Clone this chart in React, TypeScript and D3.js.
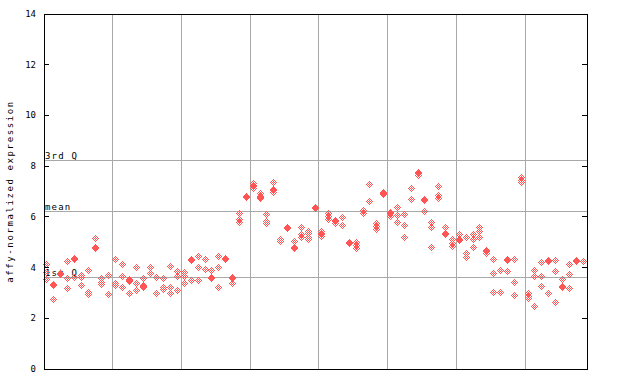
import React from "react";
import * as d3 from "d3";

// expression values per sample column (79 columns, groups of 10)
const columnValues: number[][] = [
  [4.14, 3.82, 3.55],
  [3.35, 3.31, 2.76],
  [3.79, 3.75],
  [4.27, 3.58, 3.2],
  [4.36, 4.32, 3.64],
  [3.71, 3.62, 3.3],
  [3.9, 3.02, 2.94],
  [5.15, 4.8, 4.76],
  [3.58, 3.45, 3.34],
  [3.71, 2.94],
  [4.32, 3.38, 3.3],
  [4.14, 3.67, 3.25],
  [3.56, 3.52, 3.46, 2.99],
  [4.03, 3.38, 3.12],
  [3.58, 3.33, 3.29, 3.22],
  [4.02, 3.77],
  [3.62, 2.98],
  [3.58, 3.22, 3.14],
  [4.06, 3.22, 3.01],
  [3.88, 3.66, 3.12],
  [3.81, 3.66, 3.38],
  [4.34, 4.3, 3.51],
  [4.44, 4.03, 3.51],
  [4.34, 3.94],
  [3.9, 3.64, 3.6],
  [4.46, 4.03, 3.22],
  [4.36, 4.32],
  [3.64, 3.6, 3.4],
  [6.14, 5.9, 5.8],
  [6.82, 6.78],
  [7.33, 7.24, 7.2, 7.14],
  [6.96, 6.84, 6.8, 6.74],
  [6.11, 5.84, 5.77],
  [7.39, 7.09, 7.05, 6.99],
  [5.14, 5.06],
  [5.59, 5.55],
  [5.05, 4.8, 4.76],
  [5.59, 5.32, 5.22],
  [5.44, 5.35, 5.22, 5.11],
  [6.38, 6.34],
  [5.45, 5.37, 5.33, 5.25],
  [6.14, 6.03, 5.9],
  [5.87, 5.83, 5.75],
  [5.98, 5.67],
  [5.0, 4.96],
  [5.01, 4.89, 4.78],
  [6.27, 6.17],
  [7.3, 6.61],
  [5.77, 5.64, 5.51],
  [6.99, 6.95, 6.9],
  [6.2, 6.16, 6.04],
  [6.37, 6.06, 5.78],
  [6.1, 5.67, 5.19],
  [7.12, 6.69],
  [7.76, 7.72, 7.65],
  [6.7, 6.66, 6.23],
  [5.8, 5.59, 4.8],
  [7.2, 6.85, 6.73],
  [5.59, 5.37, 5.33],
  [5.11, 4.96, 4.85],
  [5.31, 5.13, 5.09],
  [5.19, 4.56, 4.43],
  [5.31, 5.11, 4.8],
  [5.59, 5.45, 5.19],
  [4.69, 4.65, 4.56],
  [4.32, 3.77, 3.02],
  [3.89, 3.02],
  [4.34, 4.3, 3.85],
  [4.32, 3.42, 2.91],
  [7.56, 7.45, 7.36],
  [2.98, 2.89, 2.81],
  [3.89, 3.66, 2.47],
  [4.21, 3.66, 3.26],
  [4.29, 4.25, 2.98],
  [4.29, 3.85, 2.63],
  [3.54, 3.27, 3.23],
  [4.13, 3.73, 3.18],
  [4.29, 4.25],
  [4.25],
];

const groupSize = 10;
const yTicks = [0, 2, 4, 6, 8, 10, 12, 14];
const refLabels = ["1st Q", "mean", "3rd Q"];
const refValues = [3.62, 6.2, 8.24];
const yLabel = "affy-normalized expression";

const W = 640;
const H = 384;
const left = 44;
const right = 587;
const top = 14;
const bottom = 369;
const RED = "#ff5555";
const GRID = "#a8a8a8";

function diamondPath(cx: number, cy: number): string {
  let d = "";
  for (let dy = -3; dy <= 3; dy++) {
    for (let dx = -3; dx <= 3; dx++) {
      const dist = Math.abs(dx) + Math.abs(dy);
      if (dist === 1 || dist === 3) {
        d += `M${cx + dx},${cy + dy}h1v1h-1z`;
      }
    }
  }
  return d;
}

export default function App() {
  const x = d3
    .scaleBand<number>()
    .domain(d3.range(columnValues.length))
    .range([left, right]);
  const y = d3.scaleLinear().domain([0, 14]).range([bottom, top]);

  const px = (v: number) => Math.floor(v) + 0.5;

  const boundaries: number[] = [];
  for (let i = groupSize; i < columnValues.length; i += groupSize) {
    boundaries.push(x(i) as number);
  }

  let pointsPath = "";
  columnValues.forEach((vals, i) => {
    const cx = Math.round((x(i) as number) + x.bandwidth() / 2) - 1;
    vals.forEach((v) => {
      const cy = Math.round(y(v));
      pointsPath += diamondPath(cx, cy);
    });
  });

  const font = "'DejaVu Sans Mono', monospace";

  return (
    <svg
      width={W}
      height={H}
      style={{ position: "absolute", left: 0, top: 0, background: "#fff" }}
      shapeRendering="crispEdges"
    >
      <rect x={0} y={0} width={W} height={H} fill="#fff" />
      {/* vertical group separators */}
      {boundaries.map((bx, i) => (
        <line key={"v" + i} x1={px(bx)} x2={px(bx)} y1={top} y2={bottom} stroke={GRID} strokeWidth={1} />
      ))}
      {/* reference lines */}
      {refValues.map((v, i) => (
        <g key={"r" + i}>
          <line x1={left} x2={right} y1={px(y(v))} y2={px(y(v))} stroke={GRID} strokeWidth={1} />
          <text
            x={left + 1}
            y={Math.floor(y(v)) - 1}
            fontFamily={font}
            fontSize={9}
            letterSpacing={1.2}
            fill="#000"
          >
            {refLabels[i]}
          </text>
        </g>
      ))}
      {/* points */}
      <path d={pointsPath} fill={RED} />
      {/* frame */}
      <line x1={px(left)} x2={px(left)} y1={top} y2={bottom + 1} stroke="#000" />
      <line x1={px(right)} x2={px(right)} y1={top} y2={bottom + 1} stroke="#000" />
      <line x1={left} x2={right + 1} y1={px(top)} y2={px(top)} stroke="#000" />
      <line x1={left} x2={right + 1} y1={px(bottom)} y2={px(bottom)} stroke="#000" />
      {/* y ticks */}
      {yTicks.map((t) => (
        <g key={"t" + t}>
          <line x1={left} x2={left + 5} y1={px(y(t))} y2={px(y(t))} stroke="#000" />
          <line x1={right - 5} x2={right} y1={px(y(t))} y2={px(y(t))} stroke="#000" />
          <text
            x={36}
            y={y(t)}
            textAnchor="end"
            dominantBaseline="central"
            fontFamily={font}
            fontSize={9}
            fill="#000"
          >
            {t}
          </text>
        </g>
      ))}
      <text
        transform={`translate(13,${(top + bottom) / 2}) rotate(-90)`}
        textAnchor="middle"
        fontFamily={font}
        fontSize={9}
        letterSpacing={1.6}
        fill="#000"
      >
        {yLabel}
      </text>
    </svg>
  );
}
